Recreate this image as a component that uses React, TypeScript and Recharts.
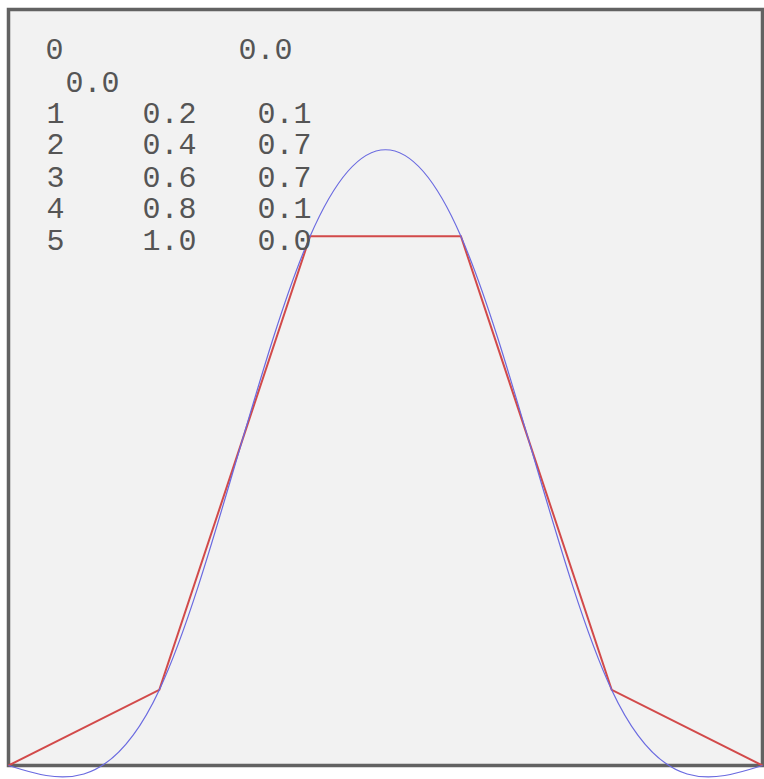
import { LineChart, Line, XAxis, YAxis, ReferenceArea } from "recharts";

// sample points (x, y) - the red line joins them, the blue one is a natural spline through them
const xs = [0, 0.2, 0.4, 0.6, 0.8, 1.0];
const ys = [0, 0.1, 0.7, 0.7, 0.1, 0.0];
const rowIndex = ["0", "1", "2", "3", "4", "5"];

const data = xs.map((x, i) => ({ x, y: ys[i] }));

const FONT = "'Liberation Mono', 'DejaVu Sans Mono', monospace";
const TEXT_COLOR = "#555555";

// baselines of the text rows (first row is split over two lines)
const BASE_Y = [59, 92, 123, 154, 187, 218, 250];

function Table() {
  const rows = [];
  // row 0 is wrapped: index + y value on the first line, x value on the next
  rows.push(
    <text key="i0" x={45.5} y={BASE_Y[0]}>{rowIndex[0]}</text>,
    <text key="y0" x={238.5} y={BASE_Y[0]}>{ys[0].toFixed(1)}</text>,
    <text key="x0" x={65.5} y={BASE_Y[1]}>{xs[0].toFixed(1)}</text>
  );
  for (let i = 1; i < xs.length; i++) {
    const by = BASE_Y[i + 1];
    rows.push(
      <text key={"i" + i} x={46.5} y={by}>{rowIndex[i]}</text>,
      <text key={"x" + i} x={142.5} y={by}>{xs[i].toFixed(1)}</text>,
      <text key={"y" + i} x={257.5} y={by}>{ys[i].toFixed(1)}</text>
    );
  }
  return (
    <svg
      width={330}
      height={270}
      style={{ position: "absolute", left: 0, top: 0, pointerEvents: "none" }}
      fontFamily={FONT}
      fontSize={30}
      fill={TEXT_COLOR}
    >
      {rows}
    </svg>
  );
}

export default function App() {
  return (
    <div
      style={{
        position: "fixed",
        left: 0,
        top: 0,
        width: 764,
        height: 779,
        overflow: "hidden",
        background: "#fff",
      }}
    >
      <LineChart
        width={764}
        height={779}
        data={data}
        margin={{ top: 9.5, right: 1.5, bottom: 13.5, left: 8.5 }}
      >
        <XAxis dataKey="x" type="number" domain={[0, 1]} hide />
        <YAxis type="number" domain={[0, 1]} hide />
        <ReferenceArea
          x1={0}
          x2={1}
          y1={0}
          y2={1}
          fill="#f2f2f2"
          fillOpacity={1}
          stroke="#626262"
          strokeWidth={3.5}
        />
        <Line
          type="linear"
          dataKey="y"
          stroke="#d24a4a"
          strokeWidth={2}
          dot={false}
          isAnimationActive={false}
        />
        <Line
          type="natural"
          dataKey="y"
          stroke="#6a6ae0"
          strokeWidth={1.2}
          dot={false}
          isAnimationActive={false}
        />
      </LineChart>
      <Table />
    </div>
  );
}
